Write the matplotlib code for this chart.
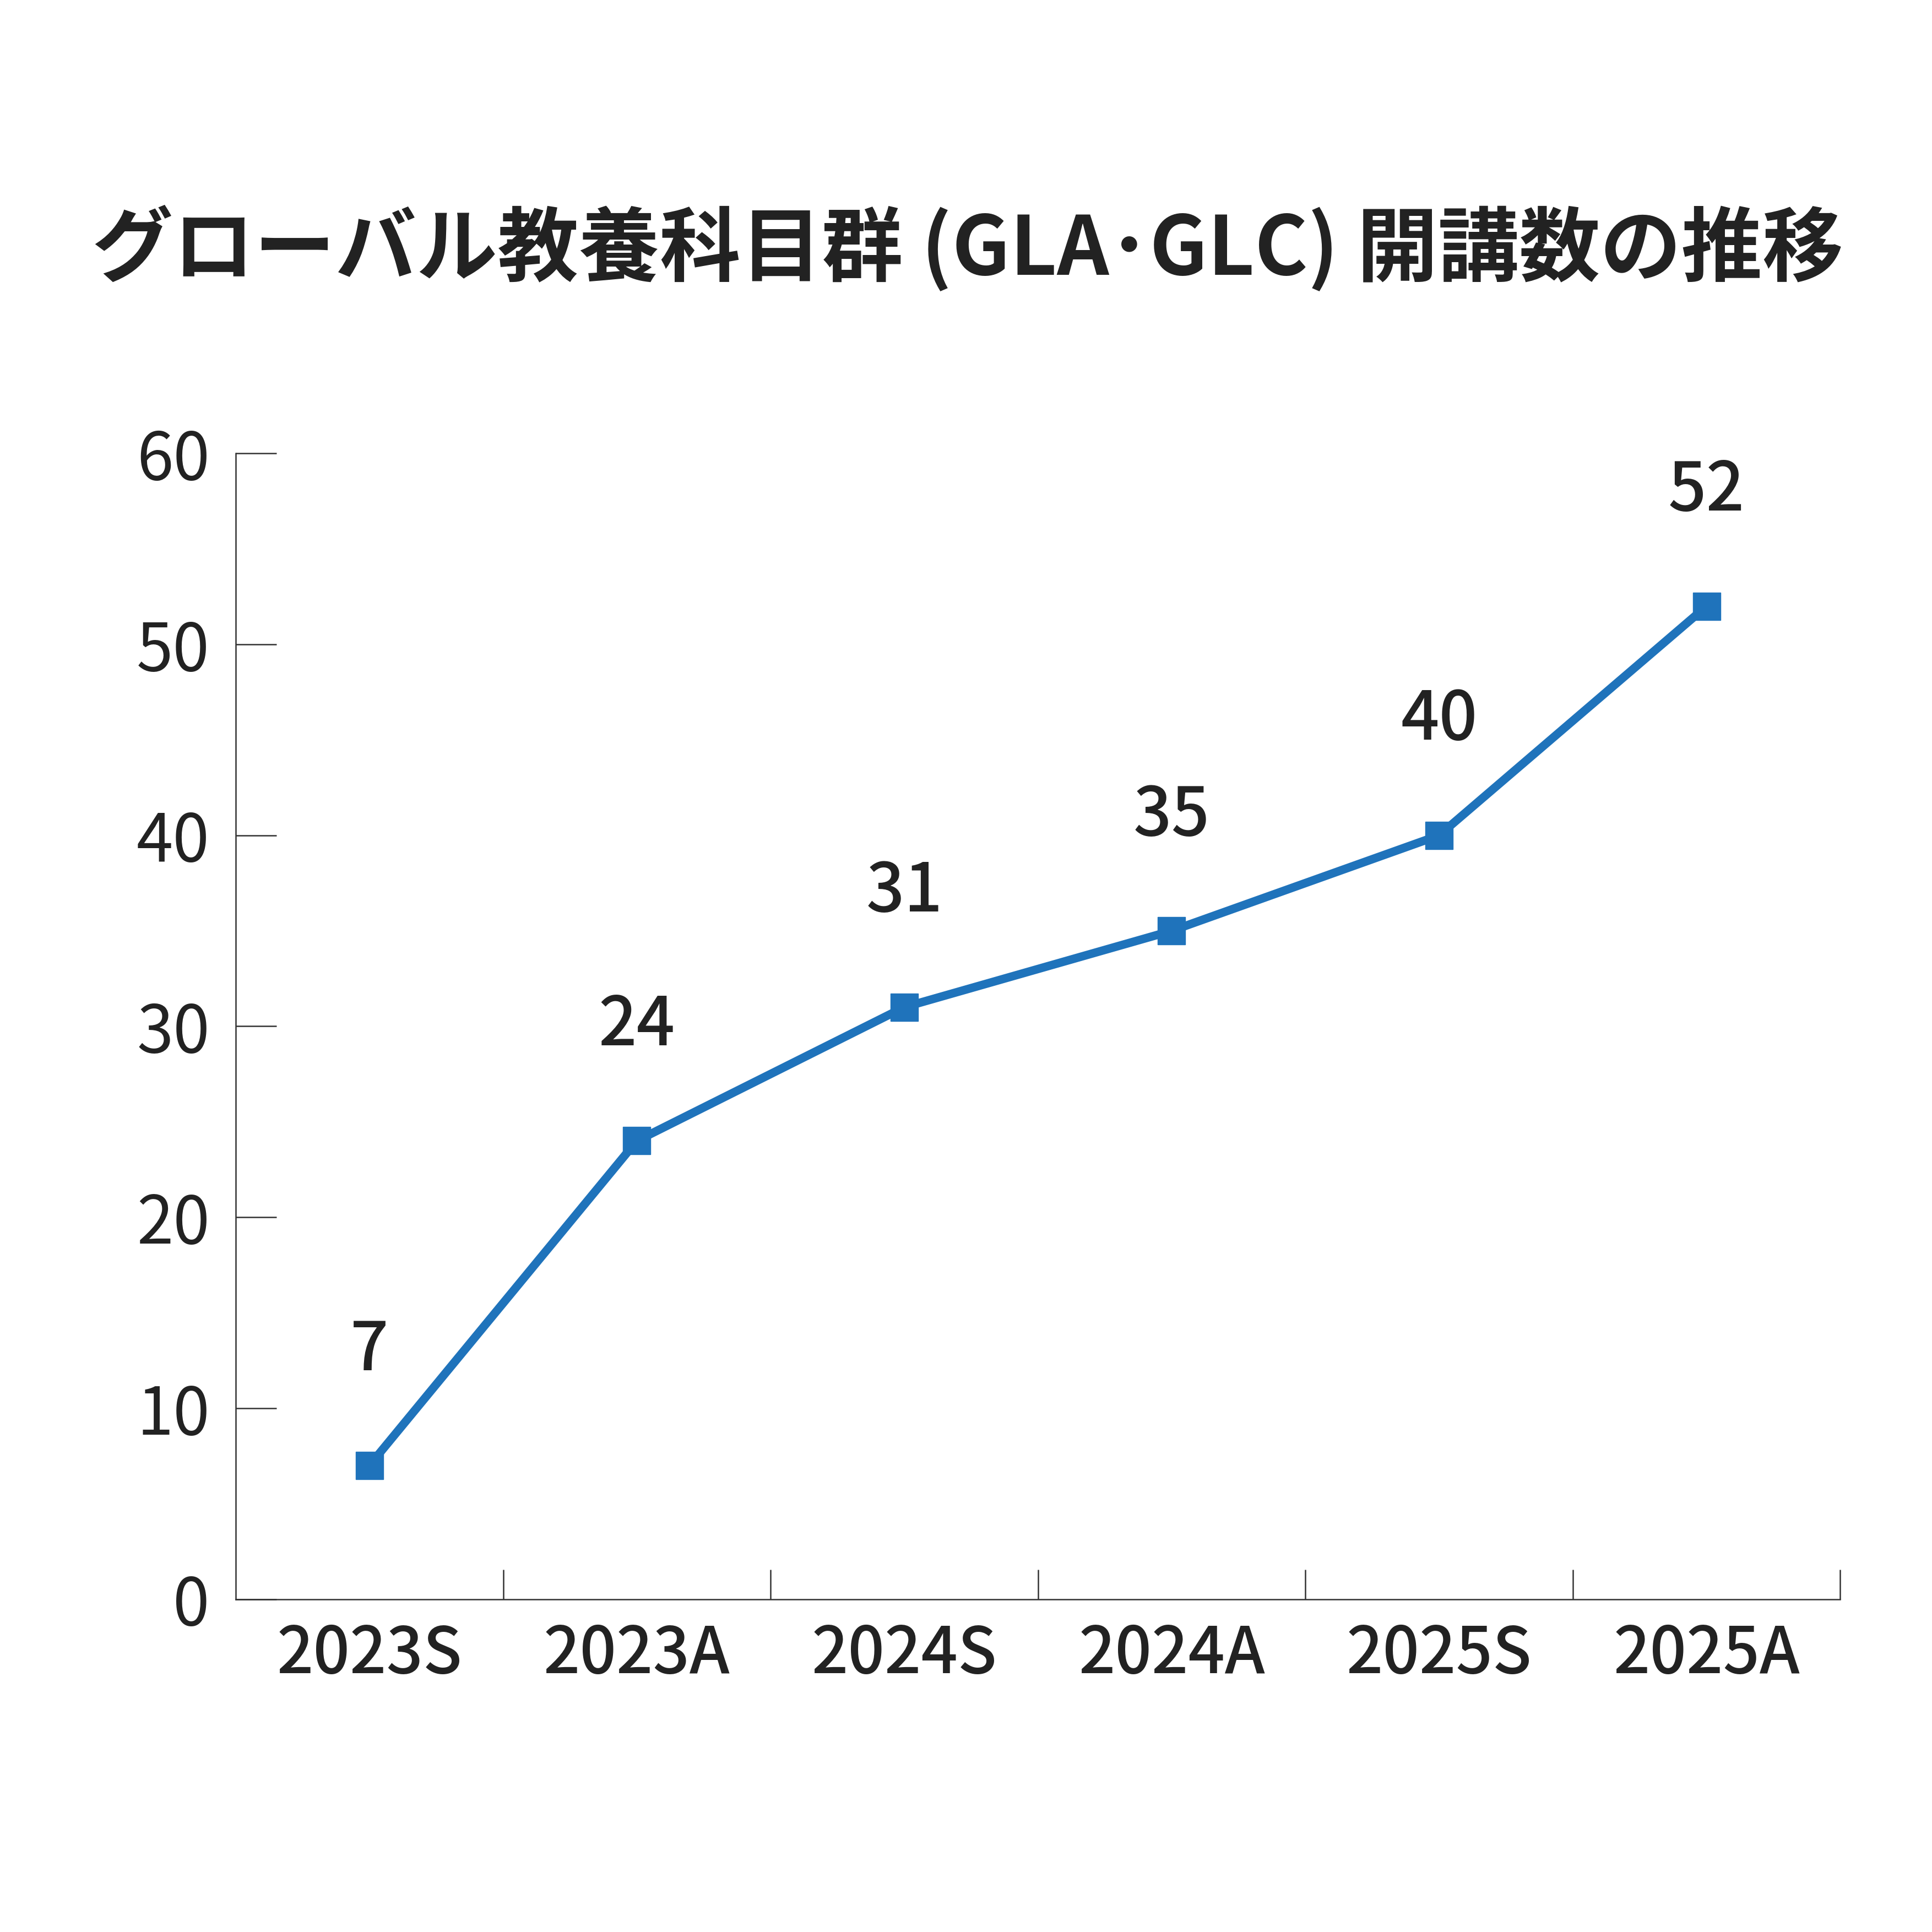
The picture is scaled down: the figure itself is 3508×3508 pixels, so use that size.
import matplotlib
matplotlib.use("Agg")
import matplotlib.pyplot as plt
from matplotlib.ticker import FixedLocator

plt.rcParams['font.family'] = ['Noto Sans CJK JP', 'DejaVu Sans']

terms = ["2023S", "2023A", "2024S", "2024A", "2025S", "2025A"]
counts = [7, 24, 31, 35, 40, 52]
yticks = [0, 10, 20, 30, 40, 50, 60]
title = "グローバル教養科目群 (GLA･GLC) 開講数の推移"

text_col = "#222222"
line_col = "#1f73bb"

fig = plt.figure(figsize=(35.08, 35.08), dpi=100)
ax = fig.add_axes([0.122, 0.1723, 0.9525 - 0.122, 0.7653 - 0.1723])

x = list(range(len(terms)))
ax.plot(x, counts, color=line_col, lw=11, marker='s', markersize=36,
        solid_joinstyle='miter')

for xi, v in zip(x, counts):
    ax.annotate(str(v), (xi, v), xytext=(0, 150), textcoords='offset points',
                ha='center', va='center', fontsize=88, fontweight='medium',
                color=text_col)

ax.set_xlim(-0.5, len(terms) - 0.5)
ax.set_ylim(0, 60)
ax.set_yticks(yticks)
ax.set_xticks(x)
ax.set_xticklabels(terms)
ax.xaxis.set_minor_locator(FixedLocator([i + 0.5 for i in x]))

for s in ['top', 'right']:
    ax.spines[s].set_visible(False)
for s in ['left', 'bottom']:
    ax.spines[s].set_linewidth(1.8)
    ax.spines[s].set_color('#333333')

ax.tick_params(axis='y', direction='in', length=53, width=1.8, color='#333333',
               labelsize=86, labelcolor=text_col, pad=34)
ax.tick_params(axis='x', which='major', length=0, labelsize=84,
               labelcolor=text_col, pad=30)
for lab in ax.get_xticklabels():
    lab.set_fontweight('medium')
ax.tick_params(axis='x', which='minor', direction='in', length=39, width=1.8,
               color='#333333')

fig.text(0.501, 0.871, title, ha='center', va='center', fontsize=106,
         fontweight='bold', color=text_col)

fig.savefig("out.png", dpi=100, facecolor='white')
